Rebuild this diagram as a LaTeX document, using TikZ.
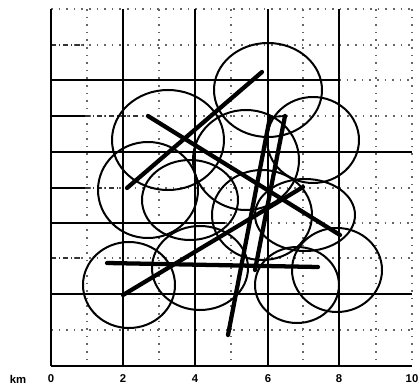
\documentclass[tikz,border=0pt]{standalone}
\usepackage{fontspec}
\setmainfont{Liberation Sans}
\begin{document}
\begin{tikzpicture}[x=0.75pt,y=-0.75pt,
  solidgrid/.style={line width=1.2pt},
  dotgrid/.style={line width=0.8pt, dash pattern=on 1.2pt off 4.5pt, black!60},
  dashgrid/.style={line width=0.9pt, dash pattern=on 4pt off 2pt on 1pt off 2pt, black!80},
  ring/.style={line width=1.5pt},
  track/.style={line width=3.2pt, line cap=round},
  axlabel/.style={font=\bfseries\fontsize{8.5}{10}\selectfont, inner sep=0pt}]
\useasboundingbox (0,0) rectangle (418,385);
% dotted grid lines (odd km and outer border)
\foreach \xx in {87,159,231,303,376,412}
  \draw[dotgrid] (\xx,9) -- (\xx,366);
\foreach \yy in {9,45,116,188,258,330}
  \draw[dotgrid] (51,\yy) -- (412,\yy);
\draw[dotgrid] (339,80) -- (412,80);
\draw[dotgrid] (225,223) -- (412,223);
\draw[dashgrid] (51,45) -- (87,45);
\draw[dashgrid] (85,116) -- (140,116);
\draw[dashgrid] (85,188) -- (120,188);
\draw[dashgrid] (51,258) -- (80,258);
% solid grid lines
\foreach \xx in {51,123,195,268,339}
  \draw[solidgrid] (\xx,9) -- (\xx,366);
\draw[solidgrid] (51,366) -- (412,366);
\draw[solidgrid] (51,294) -- (412,294);
\draw[solidgrid] (51,152) -- (412,152);
\draw[solidgrid] (51,80) -- (339,80);
\draw[solidgrid] (51,223) -- (225,223);
\draw[solidgrid] (51,116) -- (85,116);
\draw[solidgrid] (51,188) -- (85,188);
% circles
\draw[ring] (268,90) ellipse [x radius=54, y radius=47];
\draw[ring] (168,140) ellipse [x radius=56, y radius=50];
\draw[ring] (313,140) ellipse [x radius=46, y radius=43];
\draw[ring] (148,190) ellipse [x radius=50, y radius=48];
\draw[ring] (246,160) ellipse [x radius=53, y radius=50];
\draw[ring] (190,200) ellipse [x radius=48, y radius=40];
\draw[ring] (262,215) ellipse [x radius=50, y radius=45];
\draw[ring] (305,215) ellipse [x radius=50, y radius=36];
\draw[ring] (337,270) ellipse [x radius=45, y radius=42];
\draw[ring] (297,285) ellipse [x radius=42, y radius=38];
\draw[ring] (200,268) ellipse [x radius=48, y radius=42];
\draw[ring] (129,285) ellipse [x radius=46, y radius=43];
% thick tracks
\coordinate (t1a) at (148,116); \coordinate (t1b) at (340,235);
\coordinate (t2a) at (127,188); \coordinate (t2b) at (262,72);
\coordinate (t3a) at (123,295); \coordinate (t3b) at (303,187);
\coordinate (t4a) at (107,263); \coordinate (t4b) at (318,267);
\coordinate (t5a) at (270,117); \coordinate (t5b) at (228,335);
\coordinate (t6a) at (285,116); \coordinate (t6b) at (255,270);
\draw[track] (t1a) -- (t1b);
\draw[track] (t2a) -- (t2b);
\draw[track] (t3a) -- (t3b);
\draw[track] (t4a) -- (t4b);
\draw[track] (t5a) -- (t5b);
\draw[track] (t6a) -- (t6b);
\draw[line width=1.4pt] (t5a) -- (t6a);
% axis labels
\node[axlabel] (km) at (18,379) {km};
\node[axlabel] (l0) at (51,379) {0};
\node[axlabel] (l2) at (123,379) {2};
\node[axlabel] (l4) at (195,379) {4};
\node[axlabel] (l6) at (268,379) {6};
\node[axlabel] (l8) at (339,379) {8};
\node[axlabel] (l10) at (412,379) {10};
\end{tikzpicture}
\end{document}
